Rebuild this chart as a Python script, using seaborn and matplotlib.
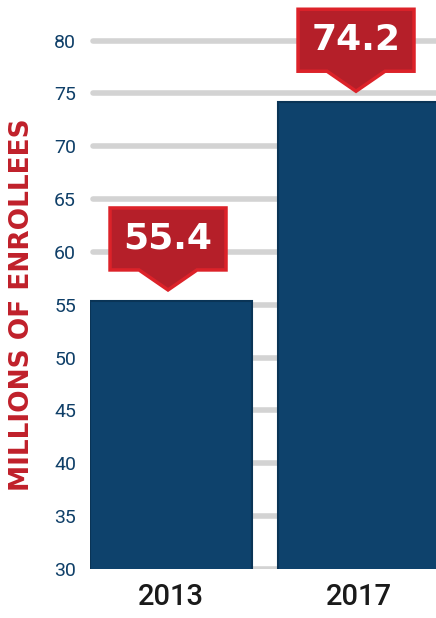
import matplotlib
matplotlib.use("Agg")
import matplotlib.pyplot as plt
import seaborn as sns
import pandas as pd
from matplotlib.patches import Polygon

# data
years = ["2013", "2017"]
enrollees = [55.4, 74.2]
yticks = [30, 35, 40, 45, 50, 55, 60, 65, 70, 75, 80]

navy = "#0e426c"
red_fill = "#b51f29"
red_edge = "#dc2229"
tick_blue = "#0f3f68"

sns.set_style("white")
plt.rcParams["font.family"] = ["Roboto", "DejaVu Sans"]

df = pd.DataFrame({"year": years, "enrollees": enrollees})

fig = plt.figure(figsize=(4.36, 6.18), dpi=100)
ax = fig.add_axes([90 / 436, 49 / 618, 346 / 436, 569 / 618])

# grey grid lines behind bars
for t in yticks:
    ax.axhline(t, xmin=0.01, xmax=1, color="#d3d3d3", lw=4, solid_capstyle="round", zorder=0)

sns.barplot(data=df, x="year", y="enrollees", color=navy, width=0.86,
            edgecolor="#0a3456", linewidth=1.5, saturation=1, ax=ax, zorder=2)

ax.set_ylim(30, 30 + 569 / 10.57)
ax.set_xlim(-0.43, -0.43 + 346 / 188)
ax.set_yticks(yticks)
ax.set_yticklabels([str(t) for t in yticks], color=tick_blue, fontsize=14)
ax.tick_params(axis="y", length=0, pad=10)
ax.tick_params(axis="x", length=0, pad=10)
for lab in ax.get_xticklabels():
    lab.set_fontsize(21)
    lab.set_fontweight("medium")
    lab.set_color("#1a1a1a")
ax.set_xlabel("")
ax.set_ylabel("")
for s in ax.spines.values():
    s.set_visible(False)

fig.text(22 / 436, 1 - 305 / 618, "MILLIONS OF ENROLLEES", rotation=90,
         ha="center", va="center", color="#c0202a", fontsize=19, fontweight="bold",
         family=["DejaVu Sans"])

# callouts
hw = 58 / 188      # box half width (data)
tw = 29 / 188      # triangle half base
for i, v in enumerate(enrollees):
    cx = i - 0.015
    tip = v + 1.0
    base = tip + 20 / 10.57
    top = base + 62 / 10.57
    pts = [(cx, tip), (cx - tw, base), (cx - hw, base), (cx - hw, top),
           (cx + hw, top), (cx + hw, base), (cx + tw, base)]
    ax.add_patch(Polygon(pts, closed=True, facecolor=red_fill, edgecolor=red_edge,
                         lw=2.5, joinstyle="miter", zorder=5, clip_on=False))
    ax.text(cx, (base + top) / 2, f"{v}", ha="center", va="center", color="white",
            fontsize=26, fontweight="bold", family=["DejaVu Sans"], zorder=6)

fig.savefig("out.png", dpi=100)
